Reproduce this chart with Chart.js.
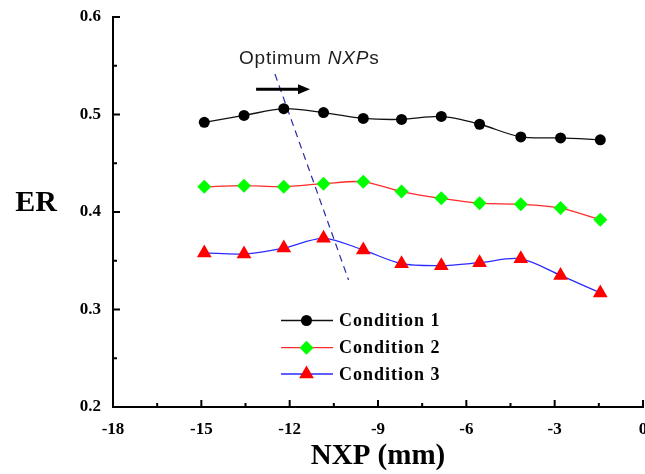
<!DOCTYPE html>
<html><head><meta charset="utf-8">
<script src="https://cdn.jsdelivr.net/npm/chart.js@4/dist/chart.umd.min.js"></script>
<style>html,body{margin:0;padding:0;background:#fff;overflow:hidden}#wrap{width:645px;height:474px}</style>
</head><body><div id="wrap"><canvas id="c" width="645" height="474"></canvas></div>
<script>
// ---- data ----
const xValues = [-14.9, -13.55, -12.2, -10.85, -9.5, -8.2, -6.85, -5.55, -4.15, -2.8, -1.45];
const condition1 = [0.492, 0.499, 0.506, 0.502, 0.496, 0.495, 0.498, 0.490, 0.477, 0.476, 0.474];
const condition2 = [0.426, 0.427, 0.426, 0.429, 0.431, 0.421, 0.414, 0.409, 0.408, 0.404, 0.392];
const condition3 = [0.358, 0.357, 0.363, 0.373, 0.361, 0.347, 0.345, 0.348, 0.352, 0.335, 0.317];
const seriesNames = ['Condition 1', 'Condition 2', 'Condition 3'];
const xTicks = [-18, -15, -12, -9, -6, -3, 0];
const yTicks = [0.2, 0.3, 0.4, 0.5, 0.6];
const xTitle = 'NXP (mm)';
const yTitle = 'ER';
// annotation (data units)
const optimumLineX = [-12.5, -10.0];
const optimumLineY = [0.5415, 0.3303];
const arrowX = [-13.14, -11.31];
const arrowY = [0.5258, 0.5258];
const noteParts = ['Optimum ', 'NXP', 's'];
const noteAnchor = [-13.72, 0.5515];

const pts = ys => xValues.map((x, i) => ({x: x, y: ys[i]}));

const SERIF = '"Liberation Serif", "Times New Roman", serif';
const SANS = '"Liberation Sans", Arial, sans-serif';

const styles = [
  {line: '#111111', fill: '#000000', pointStyle: 'circle', radius: 5.5},
  {line: '#ff2a2a', fill: '#00ff00', pointStyle: 'rectRot', radius: 7},
  {line: '#2a2aff', fill: '#ff0000', pointStyle: 'triangle', radius: 8.5}
];
const seriesData = [condition1, condition2, condition3];

const datasets = seriesData.map((d, i) => ({
  label: seriesNames[i],
  data: pts(d),
  borderColor: styles[i].line,
  backgroundColor: styles[i].fill,
  borderWidth: 1.3,
  pointStyle: styles[i].pointStyle,
  pointRadius: styles[i].radius,
  pointHoverRadius: styles[i].radius,
  pointBackgroundColor: styles[i].fill,
  pointBorderColor: styles[i].fill,
  pointBorderWidth: 0,
  tension: 0.3,
  fill: false
}));
datasets.push({
  label: '_optimum',
  data: optimumLineX.map((x, i) => ({x: x, y: optimumLineY[i]})),
  borderColor: '#2a2aa8',
  borderWidth: 1.2,
  borderDash: [7, 5],
  pointRadius: 0,
  tension: 0,
  fill: false
});

const extras = {
  id: 'extras',
  afterDraw(chart) {
    const ctx = chart.ctx;
    const xs = chart.scales.x, ys = chart.scales.y;
    ctx.save();
    ctx.strokeStyle = '#000';
    ctx.lineWidth = 2;
    // inward ticks
    const bottom = ys.getPixelForValue(yTicks[0]);
    const left = xs.getPixelForValue(xTicks[0]);
    xTicks.forEach((v, i) => {
      const p = xs.getPixelForValue(v);
      ctx.beginPath(); ctx.moveTo(p, bottom); ctx.lineTo(p, bottom - 7); ctx.stroke();
      if (i < xTicks.length - 1) {
        const m = xs.getPixelForValue((v + xTicks[i + 1]) / 2);
        ctx.beginPath(); ctx.moveTo(m, bottom); ctx.lineTo(m, bottom - 4); ctx.stroke();
      }
    });
    yTicks.forEach((v, i) => {
      const p = ys.getPixelForValue(v);
      ctx.beginPath(); ctx.moveTo(left, p); ctx.lineTo(left + 7, p); ctx.stroke();
      if (i < yTicks.length - 1) {
        const m = ys.getPixelForValue((v + yTicks[i + 1]) / 2);
        ctx.beginPath(); ctx.moveTo(left, m); ctx.lineTo(left + 4, m); ctx.stroke();
      }
    });
    // y title (horizontal)
    ctx.fillStyle = '#000';
    ctx.font = 'bold 30px ' + SERIF;
    ctx.textAlign = 'center';
    ctx.textBaseline = 'middle';
    ctx.fillText(yTitle, 36, 203);
    // annotation text
    ctx.textAlign = 'left';
    ctx.textBaseline = 'alphabetic';
    ctx.fillStyle = '#1e1e1e';
    ctx.letterSpacing = '0.8px';
    let tx = xs.getPixelForValue(noteAnchor[0]);
    const ty = ys.getPixelForValue(noteAnchor[1]);
    noteParts.forEach((t, i) => {
      ctx.font = (i === 1 ? 'italic ' : '') + '19px ' + SANS;
      ctx.fillText(t, tx, ty);
      tx += ctx.measureText(t).width;
    });
    ctx.letterSpacing = '0px';
    // arrow
    const ax0 = xs.getPixelForValue(arrowX[0]), ax1 = xs.getPixelForValue(arrowX[1]);
    const ay0 = ys.getPixelForValue(arrowY[0]);
    ctx.strokeStyle = '#000';
    ctx.lineWidth = 3;
    ctx.beginPath(); ctx.moveTo(ax0, ay0); ctx.lineTo(ax1 - 9, ay0); ctx.stroke();
    ctx.fillStyle = '#000';
    ctx.beginPath(); ctx.moveTo(ax1, ay0); ctx.lineTo(ax1 - 12, ay0 - 5); ctx.lineTo(ax1 - 12, ay0 + 5); ctx.closePath(); ctx.fill();
    // legend
    const rows = [320.5, 347.7, 374];
    seriesNames.forEach((name, i) => {
      const y = rows[i];
      ctx.strokeStyle = styles[i].line;
      ctx.lineWidth = 1.3;
      ctx.beginPath(); ctx.moveTo(281, y); ctx.lineTo(333, y); ctx.stroke();
      ctx.fillStyle = styles[i].fill;
      ctx.strokeStyle = styles[i].fill;
      Chart.helpers.drawPoint(ctx, {pointStyle: styles[i].pointStyle, radius: styles[i].radius, rotation: 0, borderWidth: 0}, 306.5, y);
      ctx.fillStyle = '#000';
      ctx.font = 'bold 18px ' + SERIF;
      ctx.letterSpacing = '1px';
      ctx.textAlign = 'left';
      ctx.textBaseline = 'middle';
      ctx.fillText(name, 339, y + 1);
      ctx.letterSpacing = '0px';
    });
    ctx.restore();
  }
};

const tickFont = {family: SERIF, weight: 'bold', size: 17};
const zeroPad = s => { s.paddingLeft = 0; s.paddingRight = 0; s.paddingTop = 0; s.paddingBottom = 0; };

new Chart(document.getElementById('c'), {
  type: 'line',
  data: {datasets: datasets},
  options: {
    responsive: false,
    devicePixelRatio: 1,
    animation: false,
    layout: {autoPadding: false, padding: {top: 17, right: 2, left: 0, bottom: 0}},
    plugins: {legend: {display: false}, tooltip: {enabled: false}},
    scales: {
      x: {
        type: 'linear',
        min: xTicks[0], max: xTicks[xTicks.length - 1],
        afterBuildTicks: s => { s.ticks = xTicks.map(v => ({value: v})); },
        afterFit: s => { s.height = 67; zeroPad(s); },
        ticks: {font: tickFont, color: '#000', padding: 12, maxRotation: 0, autoSkip: false, callback: v => String(v)},
        grid: {display: false, drawTicks: false},
        border: {display: true, color: '#000', width: 2},
        title: {display: true, text: xTitle, color: '#000', font: {family: SERIF, weight: 'bold', size: 29}, padding: {top: 0, bottom: 0}}
      },
      y: {
        type: 'linear',
        min: yTicks[0], max: yTicks[yTicks.length - 1],
        afterBuildTicks: s => { s.ticks = yTicks.map(v => ({value: v})); },
        afterFit: s => { s.width = 113; zeroPad(s); },
        ticks: {font: tickFont, color: '#000', padding: 12, callback: v => Number(v).toFixed(1)},
        grid: {display: false, drawTicks: false},
        border: {display: true, color: '#000', width: 2}
      }
    }
  },
  plugins: [extras]
});
</script>
</body></html>
